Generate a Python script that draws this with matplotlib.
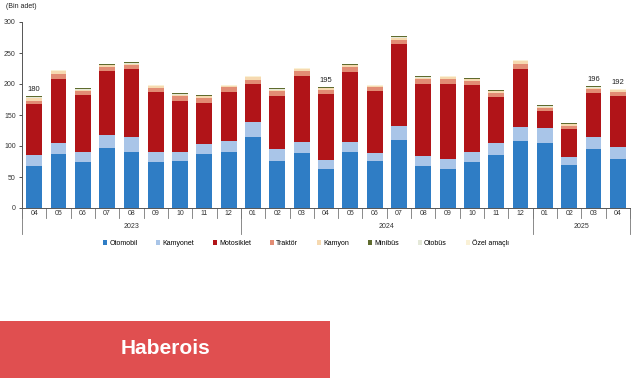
import numpy as np
import matplotlib
matplotlib.use("Agg")
import matplotlib.pyplot as plt
from matplotlib.patches import Rectangle
from matplotlib.transforms import blended_transform_factory

plt.rcParams['font.family'] = ['Liberation Sans', 'DejaVu Sans']

months = ['04', '05', '06', '07', '08', '09', '10', '11', '12',
          '01', '02', '03', '04', '05', '06', '07', '08', '09', '10', '11', '12',
          '01', '02', '03', '04']
years = ['2023', '2024', '2025']
year_counts = [9, 12, 4]

otomobil = [68, 87.5, 75, 96, 90, 73.7, 75.3, 86.6, 90, 114, 76.4, 88.8, 63.5,
            90, 75.3, 109.8, 67.2, 63, 74.8, 85, 108.7, 105, 68.8, 95.8, 79.6]
kamyonet = [17, 18, 16, 21, 24, 16.8, 15.2, 16.4, 18, 25, 19.4, 17.8, 14.5,
            16, 13.5, 22, 16.2, 16, 16.2, 19.4, 21.3, 24, 12.9, 18.2, 18.4]
motosiklet = [82, 102.5, 90.5, 103.7, 109.4, 96.3, 81.5, 67, 78.8, 61, 84.2, 106, 106.6,
              113, 100.7, 132.6, 116.6, 121, 107, 74.3, 94, 27, 45.9, 71, 83]
traktor = [6, 8.5, 8, 7.3, 7.6, 7.2, 8, 7, 8.2, 7, 8.4, 8.1, 6.4,
           8, 6, 7, 7.3, 8, 7.6, 7.1, 7.5, 5.6, 5.4, 7, 6.4]
kamyon = [5.0, 4.5, 1.5, 2.0, 2.0, 3.0, 3.0, 3.0, 2.0, 4.0, 2.6, 3.3, 2.0,
          3.0, 1.5, 3.6, 2.7, 3.0, 1.9, 2.2, 5.5, 2.1, 2.0, 2.0, 2.6]
minibus = [0.8, 0.8, 0.8, 0.8, 1.5, 0.8, 0.8, 0.8, 0.8, 1.5, 0.8, 0.8, 1.0,
           0.8, 0.8, 1.0, 1.0, 1.5, 0.8, 0.8, 1.0, 0.8, 1.5, 0.8, 0.8]
otobus = [0.5] * 25
ozel = [0.7] * 25

# totals shown above selected bars (index, label)
total_labels = [(0, '180'), (12, '195'), (23, '196'), (24, '192')]

names = ['Otomobil', 'Kamyonet', 'Motosiklet', 'Traktör', 'Kamyon', 'Minibüs', 'Otobüs', 'Özel amaçlı']
series = [otomobil, kamyonet, motosiklet, traktor, kamyon, minibus, otobus, ozel]
colors = ['#2f7dc5', '#a9c5e8', '#b11418', '#e28c74', '#f6d9b0', '#5f6b2e', '#e4e8d8', '#faf1d6']
stack_order = [0, 1, 2, 3, 4, 6, 7, 5]  # olive line drawn on top like the original

W, H = 641, 380
fig = plt.figure(figsize=(W / 100, H / 100), dpi=100)
ax = fig.add_axes([22 / W, (H - 208) / H, 608 / W, 186 / H])

x = np.arange(len(months))
bottom = np.zeros(len(months))
handles = {}
for i in stack_order:
    vals = np.array(series[i], dtype=float)
    b = ax.bar(x, vals, 0.65, bottom=bottom, color=colors[i], label=names[i], linewidth=0)
    handles[i] = b
    bottom += vals

for idx, lab in total_labels:
    ax.text(x[idx], bottom[idx] + 5, lab, ha='center', va='bottom', fontsize=5.5, color='#222222')

ax.set_xlim(-0.5, len(months) - 0.5)
ax.set_ylim(0, 300)
ax.set_yticks(np.arange(0, 301, 50))
ax.tick_params(axis='y', labelsize=5, length=2.5, width=0.6, colors='#333333', pad=2)
ax.set_xticks([])
for s in ['top', 'right']:
    ax.spines[s].set_visible(False)
ax.spines['left'].set_color('#555555')
ax.spines['left'].set_linewidth(0.7)
ax.spines['bottom'].set_color('#555555')
ax.spines['bottom'].set_linewidth(0.7)

# multi-level category axis
tr = blended_transform_factory(ax.transData, ax.transAxes)
px = 1 / 186
for k in range(len(months) + 1):
    ax.plot([k - 0.5, k - 0.5], [0, -10 * px], transform=tr, color='#777777', lw=0.6, clip_on=False)
for k, m in enumerate(months):
    ax.text(k, -5.5 * px, m, transform=tr, ha='center', va='center', fontsize=5, color='#333333')
start = 0
edges = [0]
for y, c in zip(years, year_counts):
    ax.text(start + c / 2 - 0.5, -19 * px, y, transform=tr, ha='center', va='center', fontsize=5, color='#333333')
    start += c
    edges.append(start)
for e in edges:
    ax.plot([e - 0.5, e - 0.5], [0, -26 * px], transform=tr, color='#777777', lw=0.6, clip_on=False)

fig.legend([handles[i] for i in range(8)], names, loc='center', bbox_to_anchor=(306 / W, 1 - 243 / H),
           ncol=8, frameon=False, fontsize=5, handlelength=0.6, handleheight=0.6,
           handletextpad=0.3, columnspacing=2.7)

fig.text(6 / W, 1 - 7 / H, '(Bin adet)', fontsize=5, ha='left', va='center', color='#222222')

# banner
fig.patches.append(Rectangle((0, 2 / H), 330 / W, 57 / H, transform=fig.transFigure,
                             facecolor='#e04f50', edgecolor='none'))
fig.text(165 / W, 1 - 348 / H, 'Haberois', fontsize=15, fontweight='bold', color='white',
         ha='center', va='center')

fig.savefig('out.png', dpi=100)
